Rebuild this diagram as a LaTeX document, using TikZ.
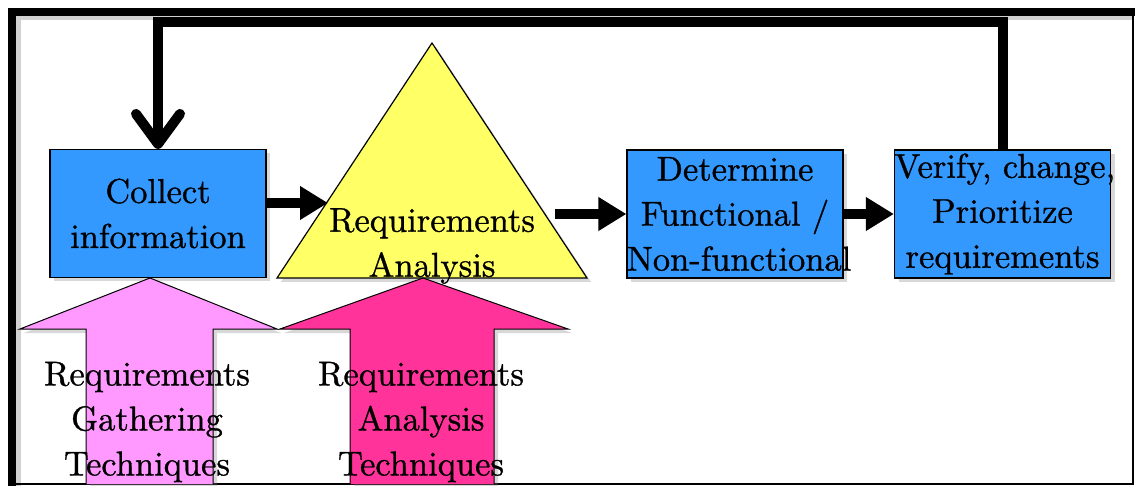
\documentclass[tikz,border=0pt]{standalone}
\usepackage{fontspec}
\newfontfamily\heavyroman{lmroman10-regular.otf}[FakeBold=0.9]
\usetikzlibrary{arrows.meta,shadows,calc}
\definecolor{boxblue}{HTML}{3399FF}
\definecolor{triyellow}{HTML}{FFFF66}
\definecolor{gatherpink}{HTML}{FF99FF}
\definecolor{analysismag}{HTML}{FF3399}
\newcommand{\labfont}{\heavyroman\fontsize{34.5}{45}\selectfont}
\tikzset{
  soft shadow/.style={drop shadow={opacity=0.3, shadow xshift=4pt, shadow yshift=-4pt}},
  procbox/.style={draw=black, line width=1.2pt, fill=boxblue, text width=216pt,
    minimum height=128pt, inner sep=0pt, align=center, font=\labfont, soft shadow},
  label text/.style={align=center, font=\labfont, inner sep=0pt},
  flow/.style={line width=10pt, -{Triangle[length=28pt,width=32pt]}},
  feedback/.style={line width=10pt, line join=miter, -{Straight Barb[length=30pt,width=44pt,round]}},
  blockline/.style={line width=1pt, line join=miter}
}
\begin{document}
\begin{tikzpicture}[x=1pt,y=-1pt]
\useasboundingbox (0,0) rectangle (1135,486);
\fill[white] (0,0) rectangle (1135,486);

% frame with a faint inner shade
\draw[black!18, line width=5pt] (18,486) -- (18,18) -- (1133,18);
\draw[line width=8pt, line join=miter] (12,486) -- (12,12) -- (1135,12);
\draw[line width=2pt] (1133,12) -- (1133,484) -- (12,484);

% process boxes (lines kept unbroken)
\node[procbox] (collect) at (158,213.5) {\mbox{Collect}\\\mbox{information}};
\node[procbox] (determine) at (735,214) {\mbox{Determine}\\\mbox{Functional /}\\\mbox{Non-functional}};
\node[procbox] (verify) at (1002.5,214) {\mbox{Verify, change,}\\\mbox{Prioritize}\\\mbox{requirements}};

% analysis triangle
\filldraw[fill=triyellow, draw=black, line width=1.2pt, soft shadow]
  (277,278) -- (432,43) -- (587,278) -- cycle;
\coordinate (tri-in) at (328,203);
\coordinate (tri-out) at (555,214);

% technique block arrows
\fill[gatherpink, soft shadow] (86,484) -- (86,329) -- (20,329) -- (150,278) -- (277,329) -- (213,329) -- (213,484) -- cycle;
\draw[blockline] (86,484) -- (86,329) -- (20,329) -- (150,278) -- (277,329) -- (213,329) -- (213,484);
\fill[analysismag, soft shadow] (350,484) -- (350,329) -- (280,329) -- (423,278) -- (568,329) -- (494,329) -- (494,484) -- cycle;
\draw[blockline] (350,484) -- (350,329) -- (280,329) -- (423,278) -- (568,329) -- (494,329) -- (494,484);

% labels
\node[label text] (analysis) at (432,246) {Requirements\\Analysis};
\node[label text] (gather) at (147,422) {Requirements\\Gathering\\Techniques};
\node[label text] (tech) at (421,422) {Requirements\\Analysis\\Techniques};

% flow arrows
\draw[flow] (collect.east |- tri-in) -- (tri-in);
\draw[flow] (tri-out) -- (determine.west);
\draw[flow] (determine.east) -- (verify.west);

% feedback loop
\coordinate (loop) at (158,22);
\draw[feedback] (verify.north) |- (loop) -- (collect.north);
\end{tikzpicture}
\end{document}
